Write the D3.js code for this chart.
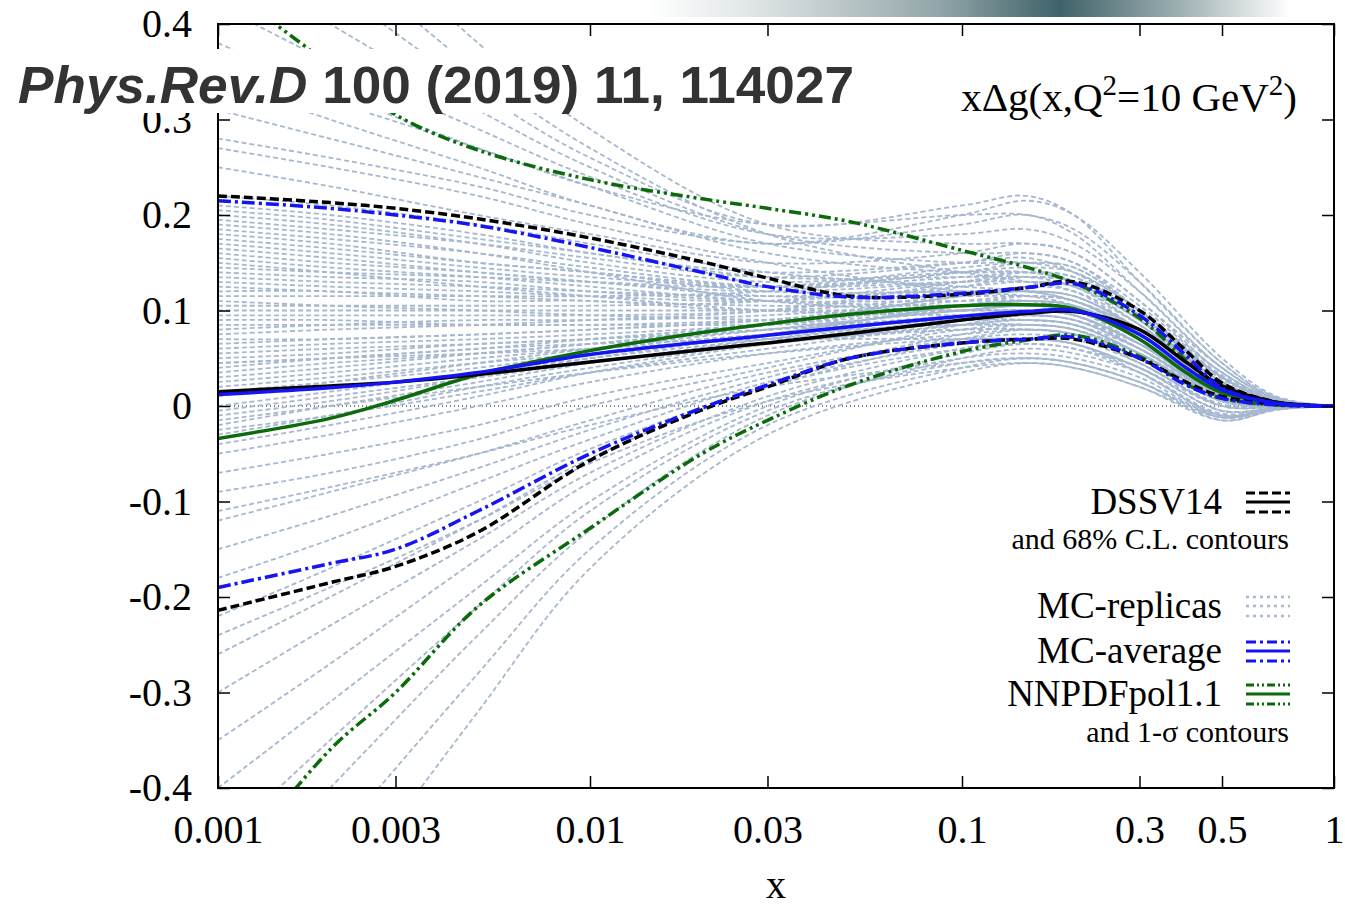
<!DOCTYPE html>
<html>
<head>
<meta charset="utf-8">
<script src="https://cdn.jsdelivr.net/npm/d3@7"></script>
<style>
  body { margin: 0; background: #fff; }
  svg { display: block; }
  .tick text { font-family: "Liberation Serif", "Times New Roman", serif; font-size: 40px; fill: #000; }
</style>
</head>
<body>
<svg width="1345" height="909"></svg>
<script>
// x grid for the central values and contours
var xGrid = [0.001, 0.002, 0.003, 0.005, 0.01, 0.02, 0.03, 0.05, 0.1, 0.15, 0.2, 0.3, 0.4, 0.5, 0.7, 1];

var dssvCentral = [0.015, 0.021, 0.025, 0.033, 0.046, 0.059, 0.066, 0.076, 0.090, 0.097, 0.099, 0.080, 0.046, 0.021, 0.004, 0];
var dssvUpper   = [0.220, 0.213, 0.207, 0.196, 0.176, 0.151, 0.134, 0.115, 0.117, 0.124, 0.130, 0.100, 0.058, 0.024, 0.004, 0];
var dssvLower   = [-0.214, -0.185, -0.168, -0.132, -0.057, -0.004, 0.020, 0.050, 0.066, 0.070, 0.070, 0.050, 0.025, 0.010, 0.002, 0];

var mcCentral = [0.012, 0.019, 0.025, 0.035, 0.054, 0.067, 0.074, 0.083, 0.094, 0.099, 0.100, 0.075, 0.040, 0.017, 0.003, 0];
var mcUpper   = [0.215, 0.207, 0.200, 0.189, 0.166, 0.140, 0.125, 0.114, 0.118, 0.124, 0.128, 0.095, 0.053, 0.019, 0.003, 0];
var mcLower   = [-0.190, -0.165, -0.150, -0.110, -0.050, -0.002, 0.022, 0.050, 0.066, 0.070, 0.072, 0.050, 0.022, 0.008, 0.001, 0];

var nnpdfCentral = [-0.034, -0.013, 0.006, 0.033, 0.058, 0.077, 0.086, 0.096, 0.105, 0.106, 0.102, 0.070, 0.035, 0.014, 0.003, 0];
var nnpdfUpper   = [0.445, 0.357, 0.305, 0.268, 0.237, 0.217, 0.207, 0.193, 0.163, 0.145, 0.129, 0.092, 0.048, 0.017, 0.003, 0];
var nnpdfLower   = [-0.500, -0.360, -0.300, -0.210, -0.128, -0.050, -0.015, 0.022, 0.057, 0.069, 0.074, 0.052, 0.023, 0.008, 0.001, 0];

// MC replicas, sampled on a coarser grid
var repX = [0.001, 0.002, 0.005, 0.01, 0.03, 0.1, 0.15, 0.2, 0.3, 0.5, 0.7, 1];
var replicas = [
  [0.20, 0.19, 0.17, 0.15, 0.13, 0.14, 0.14, 0.13, 0.09, 0.025, 0.004, 0],
  [0.18, 0.17, 0.15, 0.14, 0.12, 0.12, 0.12, 0.11, 0.08, 0.02, 0.003, 0],
  [0.16, 0.15, 0.14, 0.13, 0.12, 0.13, 0.135, 0.13, 0.09, 0.03, 0.005, 0],
  [0.14, 0.135, 0.13, 0.12, 0.11, 0.11, 0.11, 0.10, 0.07, 0.015, 0.002, 0],
  [0.12, 0.12, 0.11, 0.11, 0.10, 0.115, 0.12, 0.115, 0.08, 0.02, 0.003, 0],
  [0.10, 0.10, 0.10, 0.10, 0.10, 0.10, 0.10, 0.095, 0.065, 0.012, 0.002, 0],
  [0.08, 0.085, 0.09, 0.09, 0.095, 0.11, 0.115, 0.11, 0.075, 0.02, 0.003, 0],
  [0.06, 0.065, 0.07, 0.075, 0.085, 0.10, 0.105, 0.10, 0.07, 0.015, 0.002, 0],
  [0.04, 0.05, 0.06, 0.07, 0.085, 0.105, 0.11, 0.105, 0.075, 0.02, 0.003, 0],
  [0.02, 0.03, 0.045, 0.055, 0.075, 0.095, 0.10, 0.095, 0.065, 0.015, 0.002, 0],
  [0.0, 0.015, 0.035, 0.05, 0.07, 0.09, 0.095, 0.09, 0.06, 0.01, 0.001, 0],
  [-0.02, 0.0, 0.025, 0.045, 0.07, 0.095, 0.10, 0.10, 0.075, 0.02, 0.003, 0],
  [-0.04, -0.02, 0.01, 0.035, 0.065, 0.09, 0.095, 0.09, 0.06, 0.012, 0.002, 0],
  [0.21, 0.20, 0.18, 0.16, 0.14, 0.15, 0.155, 0.14, 0.095, 0.03, 0.005, 0],
  [0.19, 0.18, 0.16, 0.14, 0.11, 0.10, 0.10, 0.095, 0.065, 0.012, 0.002, 0],
  [0.15, 0.14, 0.125, 0.115, 0.10, 0.095, 0.095, 0.09, 0.06, 0.01, 0.001, 0],
  [0.13, 0.125, 0.12, 0.115, 0.11, 0.125, 0.13, 0.125, 0.09, 0.025, 0.004, 0],
  [0.11, 0.105, 0.10, 0.095, 0.09, 0.085, 0.085, 0.08, 0.05, 0.005, 0.0, 0],
  [0.09, 0.09, 0.085, 0.085, 0.085, 0.09, 0.09, 0.085, 0.055, 0.008, 0.001, 0],
  [0.07, 0.07, 0.075, 0.08, 0.09, 0.115, 0.125, 0.12, 0.085, 0.025, 0.004, 0],
  [0.05, 0.055, 0.065, 0.07, 0.08, 0.09, 0.09, 0.085, 0.055, 0.008, 0.001, 0],
  [0.03, 0.04, 0.055, 0.065, 0.085, 0.115, 0.12, 0.115, 0.08, 0.02, 0.003, 0],
  [0.01, 0.025, 0.045, 0.06, 0.08, 0.10, 0.105, 0.10, 0.07, 0.015, 0.002, 0],
  [-0.01, 0.005, 0.03, 0.05, 0.075, 0.105, 0.115, 0.11, 0.08, 0.022, 0.003, 0],
  [-0.03, -0.01, 0.02, 0.04, 0.065, 0.08, 0.08, 0.075, 0.045, 0.0, -0.001, 0],
  [-0.05, -0.03, 0.0, 0.025, 0.055, 0.075, 0.08, 0.075, 0.05, 0.005, 0.0, 0],
  [0.17, 0.16, 0.145, 0.135, 0.125, 0.14, 0.15, 0.145, 0.10, 0.035, 0.006, 0],
  [0.22, 0.21, 0.19, 0.17, 0.14, 0.125, 0.12, 0.11, 0.075, 0.015, 0.002, 0],
  [0.115, 0.115, 0.115, 0.115, 0.12, 0.14, 0.145, 0.14, 0.10, 0.03, 0.005, 0],
  [0.045, 0.05, 0.06, 0.065, 0.07, 0.07, 0.07, 0.065, 0.04, -0.005, -0.002, 0],
  [0.075, 0.08, 0.085, 0.09, 0.10, 0.13, 0.14, 0.135, 0.095, 0.03, 0.005, 0],
  [0.135, 0.13, 0.125, 0.12, 0.115, 0.12, 0.12, 0.115, 0.08, 0.018, 0.003, 0],
  [0.025, 0.035, 0.05, 0.06, 0.075, 0.085, 0.085, 0.08, 0.05, 0.005, 0.0, 0],
  [0.185, 0.175, 0.16, 0.145, 0.125, 0.13, 0.13, 0.125, 0.085, 0.022, 0.003, 0],
  [0.095, 0.095, 0.095, 0.095, 0.10, 0.125, 0.135, 0.13, 0.09, 0.028, 0.005, 0],
  [-0.015, 0.0, 0.02, 0.035, 0.055, 0.07, 0.07, 0.065, 0.035, -0.01, -0.002, 0],
  [0.205, 0.195, 0.175, 0.16, 0.135, 0.135, 0.135, 0.125, 0.085, 0.02, 0.003, 0],
  [0.175, 0.165, 0.15, 0.14, 0.125, 0.135, 0.14, 0.135, 0.095, 0.03, 0.005, 0],
  [0.155, 0.145, 0.135, 0.125, 0.11, 0.105, 0.105, 0.10, 0.065, 0.012, 0.002, 0],
  [0.145, 0.14, 0.135, 0.13, 0.125, 0.145, 0.15, 0.145, 0.10, 0.032, 0.006, 0],
  [0.125, 0.12, 0.115, 0.11, 0.105, 0.105, 0.105, 0.10, 0.07, 0.015, 0.002, 0],
  [0.105, 0.105, 0.105, 0.105, 0.11, 0.13, 0.135, 0.13, 0.09, 0.025, 0.004, 0],
  [0.085, 0.085, 0.085, 0.085, 0.09, 0.10, 0.10, 0.095, 0.065, 0.012, 0.002, 0],
  [0.065, 0.07, 0.075, 0.08, 0.09, 0.105, 0.11, 0.105, 0.075, 0.018, 0.003, 0],
  [0.055, 0.06, 0.065, 0.07, 0.08, 0.095, 0.10, 0.095, 0.06, 0.01, 0.001, 0],
  [0.035, 0.045, 0.055, 0.065, 0.08, 0.10, 0.105, 0.10, 0.07, 0.015, 0.002, 0],
  [0.015, 0.025, 0.04, 0.055, 0.075, 0.105, 0.11, 0.105, 0.075, 0.02, 0.003, 0],
  [-0.005, 0.01, 0.03, 0.045, 0.065, 0.085, 0.09, 0.085, 0.055, 0.008, 0.001, 0],
  [-0.025, -0.01, 0.015, 0.035, 0.06, 0.085, 0.09, 0.085, 0.06, 0.012, 0.002, 0],
  [0.165, 0.155, 0.14, 0.13, 0.115, 0.115, 0.115, 0.11, 0.075, 0.016, 0.002, 0],
  [0.195, 0.185, 0.17, 0.155, 0.135, 0.15, 0.16, 0.15, 0.105, 0.035, 0.006, 0],
  [0.045, 0.05, 0.055, 0.06, 0.07, 0.08, 0.08, 0.075, 0.045, 0.002, 0.0, 0],
  [0.25, 0.23, 0.20, 0.18, 0.15, 0.16, 0.17, 0.16, 0.11, 0.04, 0.007, 0],
  [0.28, 0.26, 0.23, 0.20, 0.17, 0.19, 0.20, 0.18, 0.12, 0.04, 0.008, 0],
  [0.31, 0.28, 0.24, 0.21, 0.16, 0.14, 0.14, 0.13, 0.09, 0.025, 0.004, 0],
  [0.34, 0.30, 0.25, 0.21, 0.17, 0.20, 0.215, 0.20, 0.14, 0.05, 0.01, 0],
  [0.38, 0.33, 0.27, 0.23, 0.17, 0.15, 0.15, 0.14, 0.10, 0.03, 0.005, 0],
  [0.42, 0.36, 0.29, 0.24, 0.18, 0.18, 0.185, 0.17, 0.12, 0.04, 0.007, 0],
  [0.47, 0.40, 0.31, 0.25, 0.18, 0.16, 0.16, 0.15, 0.10, 0.03, 0.005, 0],
  [0.52, 0.44, 0.33, 0.26, 0.19, 0.21, 0.22, 0.20, 0.13, 0.045, 0.008, 0],
  [0.58, 0.48, 0.35, 0.27, 0.18, 0.14, 0.13, 0.12, 0.08, 0.02, 0.003, 0],
  [0.65, 0.53, 0.38, 0.29, 0.19, 0.17, 0.17, 0.16, 0.11, 0.035, 0.006, 0],
  [0.27, 0.25, 0.22, 0.19, 0.15, 0.12, 0.115, 0.105, 0.07, 0.012, 0.002, 0],
  [0.36, 0.32, 0.27, 0.23, 0.19, 0.20, 0.20, 0.185, 0.13, 0.045, 0.009, 0],
  [-0.07, -0.05, -0.02, 0.01, 0.045, 0.08, 0.085, 0.08, 0.055, 0.01, 0.001, 0],
  [-0.09, -0.07, -0.035, 0.0, 0.04, 0.085, 0.095, 0.09, 0.065, 0.015, 0.002, 0],
  [-0.12, -0.09, -0.05, -0.015, 0.035, 0.07, 0.075, 0.07, 0.045, 0.0, -0.001, 0],
  [-0.15, -0.115, -0.065, -0.025, 0.03, 0.075, 0.085, 0.08, 0.055, 0.008, 0.001, 0],
  [-0.18, -0.14, -0.08, -0.035, 0.025, 0.065, 0.07, 0.065, 0.04, -0.005, -0.002, 0],
  [-0.22, -0.17, -0.10, -0.045, 0.02, 0.07, 0.08, 0.075, 0.05, 0.005, 0.0, 0],
  [-0.26, -0.20, -0.12, -0.055, 0.02, 0.06, 0.065, 0.06, 0.035, -0.01, -0.003, 0],
  [-0.30, -0.23, -0.14, -0.07, 0.01, 0.06, 0.07, 0.065, 0.04, 0.0, -0.001, 0],
  [-0.35, -0.27, -0.16, -0.08, 0.005, 0.05, 0.055, 0.05, 0.03, -0.012, -0.003, 0],
  [-0.40, -0.31, -0.19, -0.10, 0.0, 0.055, 0.065, 0.06, 0.04, -0.005, -0.002, 0],
  [-0.46, -0.35, -0.21, -0.11, -0.005, 0.045, 0.05, 0.045, 0.025, -0.015, -0.004, 0],
  [-0.52, -0.40, -0.24, -0.13, -0.01, 0.05, 0.06, 0.055, 0.035, -0.008, -0.002, 0],
  [-0.60, -0.46, -0.28, -0.15, -0.02, 0.04, 0.05, 0.045, 0.025, -0.012, -0.003, 0],
  [-0.70, -0.53, -0.32, -0.17, -0.03, 0.035, 0.045, 0.04, 0.02, -0.015, -0.004, 0],
  [-0.11, -0.085, -0.05, -0.02, 0.02, 0.045, 0.05, 0.045, 0.025, -0.01, -0.002, 0],
  [-0.24, -0.19, -0.12, -0.06, 0.005, 0.04, 0.045, 0.04, 0.02, -0.012, -0.003, 0]
];

var xTicks = [0.001, 0.003, 0.01, 0.03, 0.1, 0.3, 0.5, 1];
var yTicks = [-0.4, -0.3, -0.2, -0.1, 0, 0.1, 0.2, 0.3, 0.4];

var svg = d3.select("svg"),
    plotL = 218, plotR = 1334, plotT = 24, plotB = 788;

var x = d3.scaleLog().domain([0.001, 1]).range([plotL, plotR]);
var y = d3.scaleLinear().domain([-0.4, 0.4]).range([plotB, plotT]);

var serif = '"Liberation Serif", "Times New Roman", serif';

// header gradient strip
var defs = svg.append("defs");
var grad = defs.append("linearGradient").attr("id", "strip");
[[0, "#ffffff"], [0.15, "#e2e7e8"], [0.45, "#93a6a9"], [0.64, "#3f6269"], [0.82, "#9aacaf"], [1, "#ffffff"]]
  .forEach(function (s) { grad.append("stop").attr("offset", s[0]).attr("stop-color", s[1]); });
svg.append("rect").attr("x", 650).attr("y", 0).attr("width", 640).attr("height", 17).attr("fill", "url(#strip)");

defs.append("clipPath").attr("id", "frame")
  .append("rect").attr("x", plotL).attr("y", plotT).attr("width", plotR - plotL).attr("height", plotB - plotT);

var line = d3.line()
  .x(function (d) { return x(d[0]); })
  .y(function (d) { return y(d[1]); })
  .curve(d3.curveCatmullRom.alpha(0.5));

var plot = svg.append("g").attr("clip-path", "url(#frame)");

// zero line
plot.append("line")
  .attr("x1", plotL).attr("x2", plotR).attr("y1", y(0)).attr("y2", y(0))
  .attr("stroke", "#000").attr("stroke-width", 1).attr("stroke-dasharray", "1,3");

// replicas
plot.append("g").selectAll("path")
  .data(replicas)
  .join("path")
  .attr("d", function (r) { return line(repX.map(function (xv, i) { return [xv, r[i]]; })); })
  .attr("fill", "none")
  .attr("stroke", "#a6b8d0")
  .attr("stroke-width", 1.8)
  .attr("stroke-dasharray", "5,3");

var groups = [
  { vals: [nnpdfCentral, nnpdfUpper, nnpdfLower], color: "#0b6b0b", dash: "12,4,3,4,3,4" },
  { vals: [dssvCentral, dssvUpper, dssvLower], color: "#000000", dash: "9,4" },
  { vals: [mcCentral, mcUpper, mcLower], color: "#1414f5", dash: "13,4,3,4" }
];

groups.forEach(function (g) {
  g.vals.forEach(function (v, i) {
    plot.append("path")
      .attr("d", line(xGrid.map(function (xv, j) { return [xv, v[j]]; })))
      .attr("fill", "none")
      .attr("stroke", g.color)
      .attr("stroke-width", 3.5)
      .attr("stroke-dasharray", i === 0 ? null : g.dash);
  });
});

// axes with inward ticks
var fmtY = function (d) { return d === 0 ? "0" : d.toFixed(1); };

svg.append("g")
  .attr("transform", "translate(0," + plotB + ")")
  .call(d3.axisBottom(x).tickValues(xTicks).tickFormat(function (d) { return String(d); }).tickSize(-12).tickPadding(27))
  .call(function (g) { g.select(".domain").remove(); });

svg.append("g")
  .attr("transform", "translate(0," + plotT + ")")
  .call(d3.axisTop(x).tickValues(xTicks).tickFormat("").tickSize(-12))
  .call(function (g) { g.select(".domain").remove(); });

svg.append("g")
  .attr("transform", "translate(" + plotL + ",0)")
  .call(d3.axisLeft(y).tickValues(yTicks).tickFormat(fmtY).tickSize(-12).tickPadding(26))
  .call(function (g) { g.select(".domain").remove(); });

svg.append("g")
  .attr("transform", "translate(" + plotR + ",0)")
  .call(d3.axisRight(y).tickValues(yTicks).tickFormat("").tickSize(-12))
  .call(function (g) { g.select(".domain").remove(); });

svg.selectAll(".tick line").attr("stroke-width", 1.5);

// frame
svg.append("rect")
  .attr("x", plotL).attr("y", plotT).attr("width", plotR - plotL).attr("height", plotB - plotT)
  .attr("fill", "none").attr("stroke", "#000").attr("stroke-width", 2);

// axis label
svg.append("text")
  .attr("x", 776).attr("y", 898)
  .attr("text-anchor", "middle")
  .attr("font-family", serif).attr("font-size", 40)
  .text("x");

// function label
var fl = svg.append("text")
  .attr("x", 1297).attr("y", 111)
  .attr("text-anchor", "end")
  .attr("font-family", serif).attr("font-size", 41);
fl.append("tspan").text("x\u0394g(x,Q");
fl.append("tspan").attr("dy", -16).attr("font-size", 29).text("2");
fl.append("tspan").attr("dy", 16).text("=10 GeV");
fl.append("tspan").attr("dy", -16).attr("font-size", 29).text("2");
fl.append("tspan").attr("dy", 16).text(")");

// legend
var legendRows = [
  { label: "DSSV14", y: 514, color: "#000000", dash: "9,4", mid: true, width: 3 },
  { label: "MC-replicas", y: 618, color: "#a6b8d0", dash: "3,4", mid: false, width: 2.5 },
  { label: "MC-average", y: 663, color: "#1414f5", dash: "10,4,3,4", mid: true, width: 3 },
  { label: "NNPDFpol1.1", y: 706, color: "#0b6b0b", dash: "8,3,2,3,2,3", mid: true, width: 3 }
];

var legend = svg.append("g");
legendRows.forEach(function (r) {
  legend.append("text")
    .attr("x", 1222).attr("y", r.y)
    .attr("text-anchor", "end")
    .attr("font-family", serif).attr("font-size", 37)
    .text(r.label);
  [-21, -12, -2].forEach(function (off, k) {
    legend.append("line")
      .attr("x1", 1246).attr("x2", 1290)
      .attr("y1", r.y + off).attr("y2", r.y + off)
      .attr("stroke", r.color)
      .attr("stroke-width", r.width)
      .attr("stroke-dasharray", (k === 1 && r.mid) ? null : r.dash);
  });
});

[["and 68% C.L. contours", 549], ["and 1-\u03c3 contours", 742]].forEach(function (t) {
  legend.append("text")
    .attr("x", 1289).attr("y", t[1])
    .attr("text-anchor", "end")
    .attr("font-family", serif).attr("font-size", 30)
    .text(t[0]);
});

// publication banner over the plot
svg.append("rect").attr("x", 0).attr("y", 49).attr("width", 870).attr("height", 64).attr("fill", "#fff");
var ban = svg.append("text")
  .attr("x", 18).attr("y", 103)
  .attr("font-family", '"Liberation Sans", Arial, sans-serif')
  .attr("font-weight", "bold").attr("font-size", 52)
  .attr("fill", "#333")
  .attr("textLength", 836).attr("lengthAdjust", "spacingAndGlyphs");
ban.append("tspan").attr("font-style", "italic").text("Phys.Rev.D");
ban.append("tspan").text(" 100 (2019) 11, 114027");
</script>
</body>
</html>
